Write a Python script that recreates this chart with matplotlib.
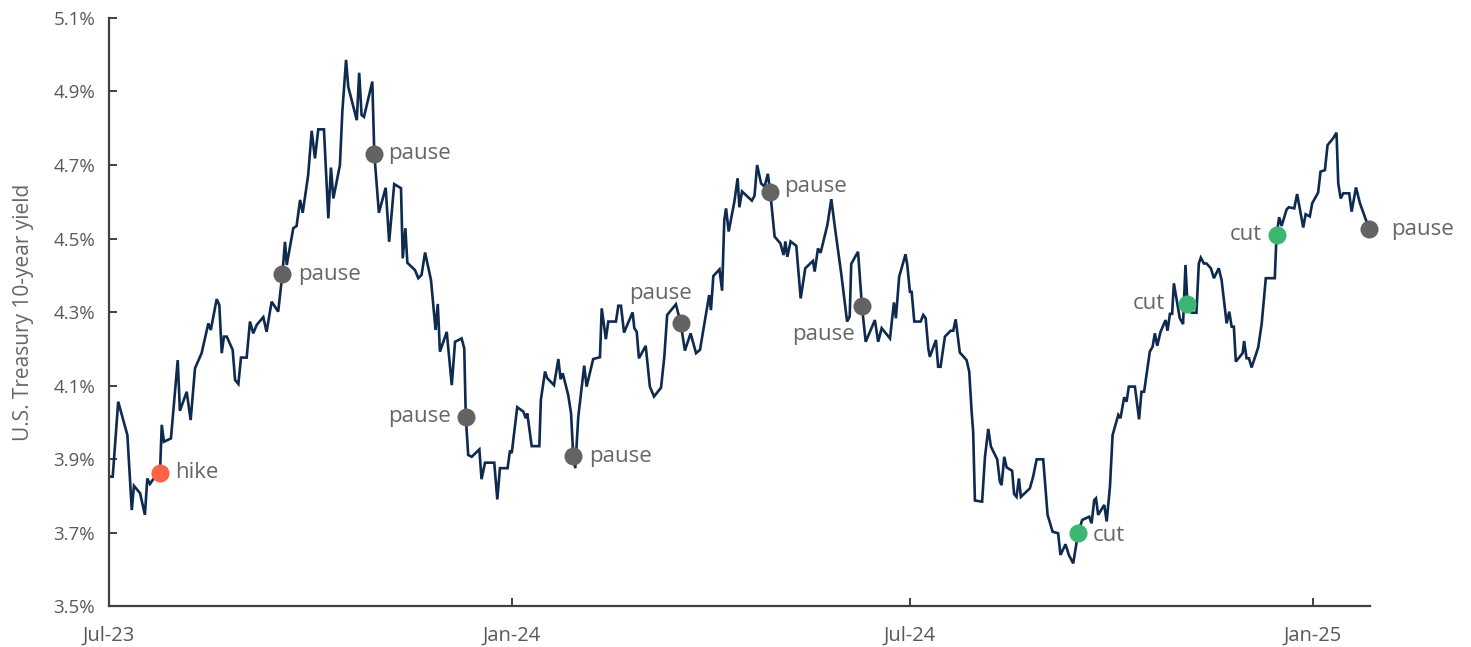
import numpy as np
import matplotlib
matplotlib.use("Agg")
import matplotlib.pyplot as plt
import matplotlib.dates as mdates

plt.rcParams['font.family'] = ['Open Sans', 'DejaVu Sans']

# Days since 2023-07-01 and 10-year yield (%)
days = [0.5, 1.7, 4.2, 8.4, 10.4, 11.4, 14.2, 16.4, 17.5, 18.7, 21.0, 23.3, 24.1, 25.1,
        28.3, 31.4, 32.4, 35.5, 37.3, 39.3, 42.3, 45.4, 46.5, 49.2, 50.4, 51.5, 52.5,
        53.8, 56.5, 57.6, 59.1, 60.3, 62.9, 64.4, 65.9, 67.5, 70.5, 72.0, 74.3, 77.3,
        79.2, 80.4, 81.2, 84.2, 85.7, 87.3, 88.5, 91.0, 92.6, 94.1, 95.6, 98.2, 100.2,
        101.4, 102.5, 105.5, 106.6, 108.3, 109.3, 113.2, 114.3, 115.4, 116.5, 120.3,
        121.2, 123.3, 126.4, 128.0, 130.3, 133.4, 134.2, 135.4, 136.3, 139.8, 141.3,
        142.8, 144.4, 147.1, 149.2, 150.2, 151.2, 154.3, 156.6, 158.1, 161.1, 162.3,
        163.0, 164.1, 165.7, 169.2, 170.2, 171.8, 176.0, 177.4, 178.6, 182.1, 183.2,
        184.0, 186.5, 189.3, 190.4, 191.1, 193.1, 196.6, 197.3, 199.2, 200.2, 203.3,
        205.3, 206.3, 207.3, 209.8, 211.1, 212.1, 213.0, 214.4, 217.1, 218.2, 221.2,
        224.3, 225.1, 227.0, 228.1, 231.6, 232.7, 233.9, 235.3, 239.2, 240.0, 241.1,
        242.1, 245.2, 247.1, 249.0, 252.2, 253.7, 255.0, 259.0, 261.2, 263.1, 265.7,
        268.2, 270.0, 274.2, 275.0, 276.1, 278.9, 280.1, 281.1, 281.9, 283.1, 285.7,
        287.2, 288.0, 289.2, 293.7, 294.9, 296.1, 297.9, 299.5, 301.0, 302.1, 304.1,
        306.7, 308.2, 309.0, 309.9, 311.4, 314.0, 316.0, 318.1, 321.6, 322.4, 323.9,
        325.1, 328.2, 330.0, 331.6, 334.6, 337.2, 338.4, 339.1, 342.2, 344.0, 345.7,
        349.9, 351.4, 353.0, 356.8, 358.6, 359.5, 361.0, 363.9, 364.7, 365.9, 366.7,
        367.9, 370.8, 372.0, 373.1, 374.3, 375.0, 377.8, 378.8, 379.9, 381.9, 384.5,
        385.7, 386.8, 388.7, 391.8, 393.0, 394.1, 394.8, 395.6, 398.9, 400.2, 401.7,
        402.9, 405.8, 407.0, 407.8, 409.0, 410.1, 412.6, 413.5, 414.6, 415.7, 416.6,
        420.7, 422.2, 423.8, 426.8, 428.8, 431.1, 433.6, 434.7, 437.0, 438.5, 440.5,
        442.8, 444.6, 447.8, 448.9, 450.1, 450.9, 451.9, 454.7, 455.8, 457.3, 458.5,
        461.1, 462.1, 463.8, 464.9, 465.9, 468.7, 470.6, 471.7, 472.9, 475.5, 476.8,
        477.8, 478.9, 480.4, 482.7, 483.6, 484.7, 485.7, 486.5, 489.2, 490.7, 491.8,
        492.7, 494.6, 496.8, 497.9, 498.8, 500.2, 501.4, 503.4, 504.8, 507.0, 508.3,
        510.6, 511.8, 512.9, 513.9, 514.8, 517.9, 518.6, 519.7, 520.8, 522.0, 525.0,
        526.6, 528.5, 532.6, 533.4, 534.6, 535.7, 538.0, 539.0, 541.5, 542.8, 545.6,
        546.7, 548.6, 549.7, 552.4, 553.5, 555.5, 556.7, 559.3, 560.8, 561.6, 562.7,
        563.9, 566.6, 567.7, 569.7, 571.5, 575.8]

yields = [3.852, 3.852, 4.056, 3.965, 3.761, 3.827, 3.807, 3.748, 3.847, 3.832, 3.852,
          3.863, 3.993, 3.947, 3.956, 4.169, 4.031, 4.083, 4.006, 4.147, 4.188, 4.269,
          4.251, 4.335, 4.319, 4.188, 4.233, 4.233, 4.197, 4.115, 4.104, 4.176, 4.176,
          4.274, 4.242, 4.265, 4.286, 4.246, 4.328, 4.301, 4.403, 4.491, 4.428, 4.528,
          4.534, 4.605, 4.570, 4.673, 4.793, 4.718, 4.797, 4.797, 4.555, 4.693, 4.609,
          4.700, 4.845, 4.986, 4.913, 4.822, 4.951, 4.836, 4.831, 4.927, 4.731, 4.570,
          4.638, 4.491, 4.648, 4.637, 4.446, 4.528, 4.434, 4.414, 4.392, 4.401, 4.462,
          4.387, 4.251, 4.322, 4.192, 4.246, 4.101, 4.219, 4.228, 4.201, 4.015, 3.911,
          3.906, 3.926, 3.845, 3.890, 3.890, 3.790, 3.875, 3.875, 3.923, 3.916, 4.041,
          4.029, 4.011, 4.024, 3.935, 3.935, 4.061, 4.138, 4.120, 4.101, 4.172, 4.117,
          4.133, 4.074, 4.024, 3.908, 3.875, 4.015, 4.154, 4.097, 4.172, 4.177, 4.310,
          4.226, 4.274, 4.274, 4.317, 4.317, 4.244, 4.299, 4.256, 4.246, 4.174, 4.208,
          4.097, 4.070, 4.094, 4.178, 4.292, 4.321, 4.269, 4.195, 4.242, 4.188, 4.197,
          4.346, 4.305, 4.398, 4.416, 4.358, 4.550, 4.582, 4.519, 4.600, 4.664, 4.585,
          4.628, 4.603, 4.616, 4.700, 4.650, 4.641, 4.676, 4.626, 4.505, 4.487, 4.455,
          4.492, 4.450, 4.492, 4.480, 4.337, 4.419, 4.439, 4.410, 4.473, 4.461, 4.537,
          4.607, 4.532, 4.401, 4.274, 4.288, 4.431, 4.464, 4.315, 4.219, 4.278, 4.219,
          4.256, 4.228, 4.326, 4.283, 4.396, 4.457, 4.428, 4.355, 4.355, 4.274, 4.274,
          4.292, 4.283, 4.201, 4.178, 4.224, 4.151, 4.151, 4.233, 4.249, 4.249, 4.280,
          4.190, 4.169, 4.138, 4.029, 3.974, 3.787, 3.784, 3.906, 3.982, 3.934, 3.899,
          3.838, 3.829, 3.906, 3.877, 3.868, 3.805, 3.797, 3.847, 3.797, 3.820, 3.852,
          3.899, 3.899, 3.748, 3.702, 3.698, 3.639, 3.668, 3.639, 3.616, 3.700, 3.734,
          3.743, 3.725, 3.788, 3.793, 3.748, 3.775, 3.730, 3.825, 3.965, 4.020, 4.011,
          4.068, 4.056, 4.097, 4.097, 4.008, 4.083, 4.083, 4.192, 4.206, 4.242, 4.208,
          4.246, 4.278, 4.249, 4.295, 4.295, 4.378, 4.283, 4.267, 4.428, 4.322, 4.298,
          4.298, 4.432, 4.448, 4.432, 4.432, 4.419, 4.392, 4.419, 4.387, 4.269, 4.301,
          4.260, 4.260, 4.165, 4.188, 4.221, 4.174, 4.174, 4.149, 4.203, 4.267, 4.392,
          4.392, 4.510, 4.558, 4.534, 4.579, 4.585, 4.582, 4.621, 4.530, 4.566, 4.560,
          4.596, 4.625, 4.682, 4.686, 4.754, 4.773, 4.788, 4.650, 4.609, 4.623, 4.623,
          4.573, 4.639, 4.596, 4.525]

# FOMC decisions
meeting_days = [23.3, 79.2, 121.2, 163.0, 212.1, 261.2, 302.1, 344.0, 442.8, 492.7, 533.4, 575.8]
meeting_yields = [3.863, 4.403, 4.731, 4.015, 3.908, 4.269, 4.626, 4.315, 3.700, 4.322, 4.510, 4.525]
meeting_labels = ["hike", "pause", "pause", "pause", "pause", "pause", "pause", "pause",
                  "cut", "cut", "cut", "pause"]

# label placement (offset in pixels, alignment)
label_pos = [((15, 0), 'left', 'center'),
             ((16, 0), 'left', 'center'),
             ((14, 0), 'left', 'center'),
             ((-15, 0), 'right', 'center'),
             ((16, 0), 'left', 'center'),
             ((-20, 30), 'center', 'center'),
             ((14, 6), 'left', 'center'),
             ((-38, -28), 'center', 'center'),
             ((15, -3), 'left', 'center'),
             ((-22, 0), 'right', 'center'),
             ((-15, 0), 'right', 'center'),
             ((22, 0), 'left', 'center')]

colors = {"hike": "#FF6347", "pause": "#636363", "cut": "#3DB671"}

base = np.datetime64('2023-07-01T00:00')
def to_dates(d):
    return base + (np.array(d) * 24 * 60).round().astype('timedelta64[m]')

x = to_dates(days)
mx = to_dates(meeting_days)

W, H, DPI = 1471, 647, 100
fig = plt.figure(figsize=(W / DPI, H / DPI), dpi=DPI)
ax = fig.add_axes([109 / W, (H - 606) / H, (1370 - 109) / W, (606 - 18) / H])

ax.plot(x, yields, color="#0E2A4F", lw=1.9, solid_joinstyle='miter', zorder=2, clip_on=False)

px2pt = 72 / DPI
for xi, yi, lab, (off, ha, va) in zip(mx, meeting_yields, meeting_labels, label_pos):
    ax.plot([xi], [yi], 'o', ms=13, color=colors[lab], mec='none', zorder=3, clip_on=False)
    ax.annotate(lab, (xi, yi), xytext=(off[0] * px2pt, off[1] * px2pt), textcoords='offset points',
                ha=ha, va=va, fontsize=16, color="#666666", zorder=4)

ax.set_xlim(base, base + np.timedelta64(int(576.1 * 24 * 60), 'm'))
ax.set_ylim(3.5, 5.1)

yt = [3.5, 3.7, 3.9, 4.1, 4.3, 4.5, 4.7, 4.9, 5.1]
ax.set_yticks(yt)
ax.set_yticklabels([f"{v:.1f}%" for v in yt])

xt_dates = ['2023-07-01', '2024-01-01', '2024-07-01', '2025-01-01']
xt_labels = ['Jul-23', 'Jan-24', 'Jul-24', 'Jan-25']
ax.set_xticks([np.datetime64(d) for d in xt_dates])
ax.set_xticklabels(xt_labels)

for s in ['top', 'right']:
    ax.spines[s].set_visible(False)
for s in ['left', 'bottom']:
    ax.spines[s].set_color("#404040")
    ax.spines[s].set_linewidth(1.6)

ax.tick_params(axis='y', direction='in', length=6, width=1.4, color="#404040",
               labelsize=13.5, labelcolor="#595959", pad=10)
ax.tick_params(axis='x', direction='in', length=6, width=1.4, color="#404040",
               labelsize=14.5, labelcolor="#595959", pad=14)

ax.set_ylabel("U.S. Treasury 10-year yield", fontsize=15, color="#666666", labelpad=14)

fig.savefig("out.png", dpi=DPI)
